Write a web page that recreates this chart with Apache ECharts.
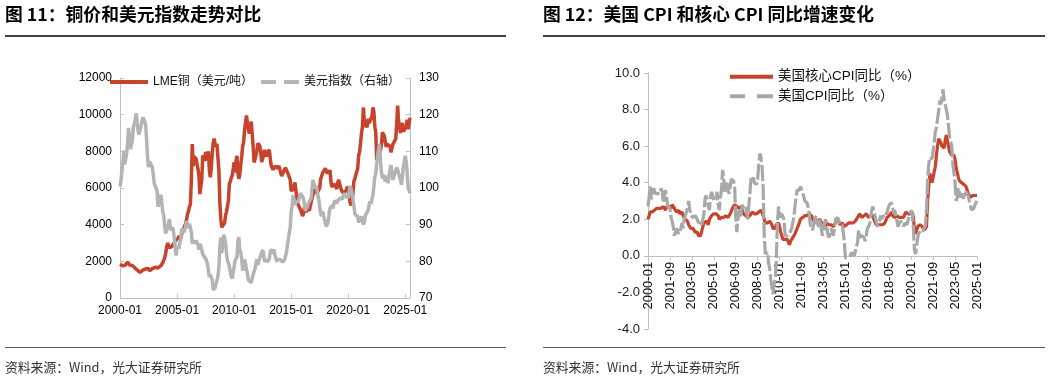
<!DOCTYPE html>
<html>
<head>
<meta charset="utf-8">
<script src="https://cdn.jsdelivr.net/npm/echarts@6/dist/echarts.min.js"></script>
<style>
html,body{margin:0;padding:0;background:#fff;}
#c{width:1054px;height:381px;}
</style>
</head>
<body>
<div id="c"></div>
<script>
// ---------- categories ----------
const monthsLeft = [];   // 2000-01 .. 2025-06
for (let y = 2000; y <= 2025; y++) for (let m = 1; m <= 12; m++) {
  if (y === 2025 && m > 6) break;
  monthsLeft.push(y + '-' + (m < 10 ? '0' + m : m));
}
const monthsRight = [];  // 2000-01 .. 2025-01
for (let y = 2000; y <= 2025; y++) for (let m = 1; m <= 12; m++) {
  if (y === 2025 && m > 1) break;
  monthsRight.push(y + '-' + (m < 10 ? '0' + m : m));
}

// ---------- LME copper (USD/t), monthly ----------
const copper = [].concat(
  [1840,1880,1800,1750,1800,1770,1810,1880,1960,1900,1800,1840],
  [1790,1780,1730,1670,1740,1600,1530,1460,1440,1400,1440,1470],
  [1520,1580,1610,1590,1600,1650,1610,1480,1480,1530,1600,1600],
  [1650,1680,1620,1590,1640,1650,1710,1760,1790,1920,2060,2200],
  [2420,2760,3000,2950,2740,2690,2810,2840,2900,3000,3120,3140],
  [3170,3250,3380,3400,3250,3520,3620,3800,3860,4060,4270,4580],
  [4730,4980,5100,6380,8400,7200,7710,7690,7600,7500,7030,6680],
  [5670,5700,6450,7770,7660,7470,7970,7510,7650,8000,6960,6590],
  [7060,7890,8440,8700,8380,8260,8410,7640,6990,5200,4300,3850],
  [3900,3950,4100,4500,4700,5000,5300,6200,6200,6300,6700,7000],
  [7400,6850,7460,7750,6840,6500,6730,7280,7710,8290,8470,9150],
  [9550,9950,9530,9480,8960,9060,9620,9000,8300,7390,7580,7560],
  [8040,8440,8470,8290,7960,7420,7580,7510,8080,8060,7710,7960],
  [8050,8070,7640,7230,7250,7000,6910,7190,7160,7200,7070,7220],
  [7290,7150,6650,6670,6890,6820,7110,7000,6870,6740,6710,6450],
  [5830,5730,5940,6040,6300,5830,5460,5130,5220,5220,4800,4630],
  [4470,4600,4950,4870,4700,4640,4870,4750,4720,4730,5450,5660],
  [5750,5940,5820,5700,5600,5720,5990,6480,6580,6810,6830,6830],
  [7070,7000,6800,6870,6830,6960,6250,6050,6050,6220,6200,6080],
  [5940,6310,6440,6440,6030,5870,5940,5710,5760,5740,5860,6080],
  [6030,5690,5180,5060,5240,5730,6370,6500,6710,6710,7070,7770],
  [7970,8460,9000,9340,10400,9610,9430,9360,9320,9780,9550,9550],
  [9780,9940,10400,10180,9360,9030,7530,7980,7750,7650,8060,8370],
  [9040,8940,8840,8820,8240,8390,8450,8350,8270,7940,8180,8390],
  [8340,8310,8680,9480,10500,9640,9330,9000,9330,9550,9080,8990],
  [8990,9330,9730,9200,9530,9830]
);

// ---------- US dollar index, monthly (right axis) ----------
const dxy = [].concat(
  [100.4,101.9,104.8,106.6,110.2,106.4,106.9,109.5,112.1,116.4,116.8,110.6],
  [110.5,113.0,116.5,116.4,118.5,120.4,120.2,115.6,114.6,115.8,116.7,116.8],
  [119.3,118.9,118.2,117.2,113.1,108.4,105.7,107.2,107.1,107.6,105.7,103.7],
  [101.2,100.6,100.4,99.2,94.9,94.8,96.5,98.2,96.0,93.4,92.6,89.4],
  [87.6,87.9,89.1,90.3,91.5,89.2,88.4,89.3,88.6,86.6,83.8,81.6],
  [83.5,84.2,83.4,85.3,86.2,88.9,89.3,87.9,88.0,89.5,91.0,90.2],
  [89.0,90.3,90.1,88.0,84.8,85.6,85.4,84.9,85.7,86.2,84.6,83.2],
  [84.8,84.1,83.1,81.9,81.9,82.4,80.8,81.3,79.3,77.5,75.7,76.4],
  [76.2,75.0,72.2,72.6,72.8,72.7,72.5,75.9,78.5,83.8,86.5,82.2],
  [84.4,87.3,86.3,85.1,82.2,80.2,79.6,78.7,77.1,75.9,75.3,77.0],
  [78.5,80.2,80.7,81.2,85.6,86.6,83.1,82.5,80.7,77.5,78.6,80.5],
  [79.4,77.8,76.6,74.9,75.0,74.8,74.2,74.4,76.4,77.2,78.0,79.4],
  [80.6,79.1,79.4,79.3,81.7,82.4,83.1,82.1,79.9,79.8,80.6,79.8],
  [79.7,80.6,82.6,82.4,83.3,82.0,83.2,81.6,81.1,79.9,80.6,80.3],
  [80.7,80.4,79.9,79.8,79.9,80.4,80.8,82.3,84.5,85.9,87.8,89.2],
  [93.5,94.9,98.1,97.7,95.4,95.4,96.6,96.0,95.9,96.0,98.6,98.6],
  [98.9,97.1,95.4,93.8,94.3,94.9,95.8,95.3,95.3,97.2,99.9,102.2],
  [101.0,100.6,100.6,100.0,98.1,96.9,94.9,93.2,92.3,93.6,93.6,93.3],
  [90.5,89.5,89.8,90.8,93.3,94.6,94.5,95.2,94.4,95.8,96.6,96.8],
  [95.8,96.5,96.7,97.2,97.7,96.9,97.0,98.0,98.6,97.8,97.9,97.3],
  [97.3,98.8,100.6,99.9,99.5,96.9,95.2,92.9,93.3,93.4,92.2,90.6],
  [90.3,90.4,92.2,91.5,90.0,90.7,92.5,92.8,92.9,93.9,95.4,96.3],
  [95.7,96.1,98.1,100.4,103.0,103.9,106.7,107.1,110.7,111.9,107.1,104.2],
  [102.6,103.6,103.7,101.8,102.7,103.3,101.3,103.3,105.1,106.2,104.3,102.2],
  [103.2,104.0,103.6,105.6,104.9,105.1,104.5,102.2,100.9,103.0,105.8,107.3],
  [108.8,107.3,104.1,100.3,99.9,98.6]
);

// ---------- US core CPI YoY (%) ----------
const coreCpi = [].concat(
  [2.0,2.2,2.4,2.3,2.4,2.5,2.5,2.6,2.6,2.5,2.6,2.6],
  [2.6,2.7,2.7,2.6,2.5,2.7,2.7,2.7,2.6,2.6,2.8,2.7],
  [2.6,2.6,2.4,2.5,2.5,2.3,2.2,2.4,2.2,2.2,2.0,1.9],
  [1.9,1.7,1.7,1.5,1.6,1.5,1.5,1.3,1.2,1.3,1.1,1.1],
  [1.1,1.2,1.6,1.8,1.7,1.9,1.8,1.7,2.0,2.0,2.2,2.2],
  [2.3,2.4,2.3,2.2,2.2,2.0,2.1,2.1,2.0,2.1,2.1,2.2],
  [2.1,2.1,2.1,2.3,2.4,2.6,2.7,2.8,2.9,2.7,2.6,2.6],
  [2.7,2.7,2.5,2.3,2.2,2.2,2.2,2.1,2.1,2.2,2.3,2.4],
  [2.5,2.3,2.4,2.3,2.3,2.4,2.5,2.5,2.5,2.2,2.0,1.8],
  [1.7,1.8,1.8,1.9,1.8,1.7,1.5,1.4,1.5,1.7,1.7,1.8],
  [1.6,1.3,1.1,0.9,0.9,0.9,0.9,0.9,0.8,0.6,0.8,0.8],
  [1.0,1.1,1.2,1.3,1.5,1.6,1.8,2.0,2.0,2.1,2.2,2.2],
  [2.3,2.2,2.3,2.3,2.3,2.2,2.1,1.9,2.0,2.0,1.9,1.9],
  [1.9,2.0,1.9,1.7,1.7,1.6,1.7,1.8,1.7,1.7,1.7,1.7],
  [1.6,1.6,1.7,1.8,2.0,1.9,1.9,1.7,1.7,1.8,1.7,1.6],
  [1.6,1.7,1.8,1.8,1.7,1.8,1.8,1.8,1.9,1.9,2.0,2.1],
  [2.2,2.3,2.2,2.1,2.2,2.2,2.2,2.3,2.2,2.1,2.1,2.2],
  [2.3,2.2,2.0,1.9,1.7,1.7,1.7,1.7,1.7,1.8,1.7,1.8],
  [1.8,1.8,2.1,2.1,2.2,2.3,2.4,2.2,2.2,2.1,2.2,2.2],
  [2.2,2.1,2.0,2.1,2.0,2.1,2.2,2.4,2.4,2.3,2.3,2.3],
  [2.3,2.4,2.1,1.4,1.2,1.2,1.6,1.7,1.7,1.6,1.6,1.6],
  [1.4,1.3,1.6,3.0,3.8,4.5,4.3,4.0,4.0,4.6,4.9,5.5],
  [6.0,6.4,6.5,6.2,6.0,5.9,5.9,6.3,6.6,6.3,6.0,5.7],
  [5.6,5.5,5.6,5.5,5.3,4.8,4.7,4.3,4.1,4.0,4.0,3.9],
  [3.9,3.8,3.8,3.6,3.4,3.3,3.2,3.2,3.3,3.3,3.3,3.2],
  [3.3]
);

// ---------- US CPI YoY (%) ----------
const headlineCpi = [].concat(
  [2.7,3.2,3.8,3.1,3.2,3.7,3.7,3.4,3.5,3.4,3.4,3.4],
  [3.7,3.5,2.9,3.3,3.6,3.2,2.7,2.7,2.6,2.1,1.9,1.6],
  [1.1,1.1,1.5,1.6,1.2,1.1,1.5,1.8,1.5,2.0,2.2,2.4],
  [2.6,3.0,3.0,2.2,2.1,2.1,2.1,2.2,2.3,2.0,1.8,1.9],
  [1.9,1.7,1.7,2.3,3.1,3.3,3.0,2.7,2.5,3.2,3.5,3.3],
  [3.0,3.0,3.1,3.5,2.8,2.5,3.2,3.6,4.7,4.3,3.5,3.4],
  [4.0,3.6,3.4,3.5,4.2,4.3,4.1,3.8,2.1,1.3,2.0,2.5],
  [2.1,2.4,2.8,2.6,2.7,2.7,2.4,2.0,2.8,3.5,4.3,4.1],
  [4.3,4.0,4.0,3.9,4.2,5.0,5.6,5.4,4.9,3.7,1.1,0.1],
  [0.0,0.2,-0.4,-0.7,-1.3,-1.4,-2.1,-1.5,-1.3,-0.2,1.8,2.7],
  [2.6,2.1,2.3,2.2,2.0,1.1,1.2,1.1,1.1,1.2,1.1,1.5],
  [1.6,2.1,2.7,3.2,3.6,3.6,3.6,3.8,3.9,3.5,3.4,3.0],
  [2.9,2.9,2.7,2.3,1.7,1.7,1.4,1.7,2.0,2.2,1.8,1.7],
  [1.6,2.0,1.5,1.1,1.4,1.8,2.0,1.5,1.2,1.0,1.2,1.5],
  [1.6,1.1,1.5,2.0,2.1,2.1,2.0,1.7,1.7,1.7,1.3,0.8],
  [-0.1,0.0,-0.1,-0.2,0.0,0.1,0.2,0.2,0.0,0.2,0.5,0.7],
  [1.4,1.0,0.9,1.1,1.0,1.0,0.8,1.1,1.5,1.6,1.7,2.1],
  [2.5,2.7,2.4,2.2,1.9,1.6,1.7,1.9,2.2,2.0,2.2,2.1],
  [2.1,2.2,2.4,2.5,2.8,2.9,2.9,2.7,2.3,2.5,2.2,1.9],
  [1.6,1.5,1.9,2.0,1.8,1.6,1.8,1.7,1.7,1.8,2.1,2.3],
  [2.5,2.3,1.5,0.3,0.1,0.6,1.0,1.3,1.4,1.2,1.2,1.4],
  [1.4,1.7,2.6,4.2,5.0,5.4,5.4,5.3,5.4,6.2,6.8,7.0],
  [7.5,7.9,8.5,8.3,8.6,9.1,8.5,8.3,8.2,7.7,7.1,6.5],
  [6.4,6.0,5.0,4.9,4.0,3.0,3.2,3.7,3.7,3.2,3.1,3.4],
  [3.1,3.2,3.5,3.4,3.3,3.0,2.9,2.5,2.4,2.6,2.7,2.9],
  [3.0]
);

// ---------- text ----------
const titleLeft = '图 11：铜价和美元指数走势对比';
const titleRight = '图 12：美国 CPI 和核心 CPI 同比增速变化';
const sourceText = '资料来源：Wind，光大证券研究所';
const nameCopper = 'LME铜（美元/吨）';
const nameDxy = '美元指数（右轴）';
const nameCore = '美国核心CPI同比（%）';
const nameCpi = '美国CPI同比（%）';

const RED = '#C8432B';
const GRAY_L = '#B4B4B4';
const GRAY_R = '#A8A8A8';
const AXIS = '#BFBFBF';
const LAT = '"Liberation Sans", Arial, "Noto Sans CJK SC", sans-serif';
const CJK = '"Noto Sans CJK SC", sans-serif';

const ICON_SOLID = 'path://M0 0H38V4H0Z';
const ICON_DASH = 'path://M0 0H15V4H0Z M23 0H38V4H23Z';
const ICON_DASH_R = 'path://M0 0H15V4H0Z M27 0H43V4H27Z';
const ICON_SOLID_R = 'path://M0 0H43V4H0Z';

// grid geometry of the CPI panel
const gR = {left: 648, top: 73, width: 329, height: 256};
const yMinR = -4, yMaxR = 10;
const zeroOffset = -gR.height * (0 - yMinR) / (yMaxR - yMinR);

const chart = echarts.init(document.getElementById('c'), null, {renderer: 'canvas'});

const option = {
  animation: false,
  backgroundColor: '#fff',
  textStyle: {fontFamily: LAT},
  graphic: [
    {type: 'text', left: 5, top: 5, style: {text: titleLeft, font: 'bold 17.8px ' + CJK, fill: '#000'}},
    {type: 'text', left: 543, top: 5, style: {text: titleRight, font: 'bold 17.8px ' + CJK, fill: '#000'}},
    {type: 'line', shape: {x1: 5, y1: 36, x2: 506, y2: 36}, style: {stroke: '#000', lineWidth: 1.5}},
    {type: 'line', shape: {x1: 543, y1: 36, x2: 1045, y2: 36}, style: {stroke: '#000', lineWidth: 1.5}},
    {type: 'line', shape: {x1: 5, y1: 347.5, x2: 506, y2: 347.5}, style: {stroke: '#555', lineWidth: 1}},
    {type: 'line', shape: {x1: 543, y1: 347.5, x2: 1045, y2: 347.5}, style: {stroke: '#555', lineWidth: 1}},
    {type: 'text', left: 5, top: 361, style: {text: sourceText, font: '12.8px ' + CJK, fill: '#333'}},
    {type: 'text', left: 543, top: 361, style: {text: sourceText, font: '12.8px ' + CJK, fill: '#333'}}
  ],
  legend: [
    {
      left: 110, top: 76, padding: 0, itemWidth: 38, itemHeight: 4, itemGap: 8,
      selectedMode: false,
      textStyle: {fontSize: 12, color: '#111', fontFamily: LAT},
      data: [
        {name: nameCopper, icon: ICON_SOLID, itemStyle: {color: RED}},
        {name: nameDxy, icon: ICON_DASH, itemStyle: {color: GRAY_L}}
      ]
    },
    {
      left: 730, top: 70, padding: 0, orient: 'vertical', itemWidth: 43, itemHeight: 4, itemGap: 6,
      selectedMode: false,
      textStyle: {fontSize: 13.5, color: '#111', fontFamily: LAT},
      data: [
        {name: nameCore, icon: ICON_SOLID_R, itemStyle: {color: RED}},
        {name: nameCpi, icon: ICON_DASH_R, itemStyle: {color: GRAY_R}}
      ]
    }
  ],
  grid: [
    {left: 120, top: 78, width: 290, height: 220, containLabel: false, outerBoundsMode: 'none'},
    {left: gR.left, top: gR.top, width: gR.width, height: gR.height, containLabel: false, outerBoundsMode: 'none'}
  ],
  xAxis: [
    {
      type: 'category', gridIndex: 0, data: monthsLeft, boundaryGap: false,
      axisLine: {lineStyle: {color: AXIS, width: 1}},
      axisTick: {inside: true, length: 4, interval: 59, lineStyle: {color: AXIS}},
      axisLabel: {interval: 59, fontSize: 12, color: '#000', margin: 7, fontFamily: LAT, hideOverlap: false},
      splitLine: {show: false}
    },
    {
      type: 'category', gridIndex: 1, data: monthsRight, boundaryGap: false,
      position: 'bottom', offset: zeroOffset,
      axisLine: {onZero: false, lineStyle: {color: AXIS, width: 1}},
      axisTick: {inside: false, length: 4, interval: 19, lineStyle: {color: AXIS}},
      axisLabel: {interval: 19, rotate: 90, fontSize: 13, color: '#111', margin: 6, fontFamily: LAT, hideOverlap: false},
      splitLine: {show: false},
      z: 0
    }
  ],
  yAxis: [
    {
      type: 'value', gridIndex: 0, min: 0, max: 12000, interval: 2000, position: 'left',
      axisLine: {show: true, lineStyle: {color: AXIS}},
      axisTick: {show: true, inside: true, length: 4, lineStyle: {color: AXIS}},
      axisLabel: {fontSize: 12, color: '#000', margin: 8, fontFamily: LAT, formatter: v => String(v)},
      splitLine: {show: false}
    },
    {
      type: 'value', gridIndex: 0, min: 70, max: 130, interval: 10, position: 'right',
      axisLine: {show: true, lineStyle: {color: AXIS}},
      axisTick: {show: true, inside: true, length: 4, lineStyle: {color: AXIS}},
      axisLabel: {fontSize: 12, color: '#000', margin: 9, fontFamily: LAT, formatter: v => String(v)},
      splitLine: {show: false}
    },
    {
      type: 'value', gridIndex: 1, min: yMinR, max: yMaxR, interval: 2, position: 'left',
      axisLine: {show: true, lineStyle: {color: AXIS}},
      axisTick: {show: true, inside: false, length: 4, lineStyle: {color: AXIS}},
      axisLabel: {fontSize: 13, color: '#1a1a2a', margin: 8, fontFamily: LAT,
        formatter: v => v.toFixed(1)},
      splitLine: {show: false}
    }
  ],
  series: [
    {
      name: nameCopper, type: 'line', xAxisIndex: 0, yAxisIndex: 0, data: copper,
      symbol: 'none', lineStyle: {color: RED, width: 3.5}, itemStyle: {color: RED}
    },
    {
      name: nameDxy, type: 'line', xAxisIndex: 0, yAxisIndex: 1, data: dxy,
      symbol: 'none', lineStyle: {color: GRAY_L, width: 3.5}, itemStyle: {color: GRAY_L}
    },
    {
      name: nameCore, type: 'line', xAxisIndex: 1, yAxisIndex: 2, data: coreCpi,
      symbol: 'none', clip: false, z: 5, lineStyle: {color: RED, width: 3.2}, itemStyle: {color: RED}
    },
    {
      name: nameCpi, type: 'line', xAxisIndex: 1, yAxisIndex: 2, data: headlineCpi,
      symbol: 'none', clip: false, z: 6, lineStyle: {color: GRAY_R, width: 3.2, type: [16, 3]}, itemStyle: {color: GRAY_R}
    }
  ]
};
chart.setOption(option);
</script>
</body>
</html>
